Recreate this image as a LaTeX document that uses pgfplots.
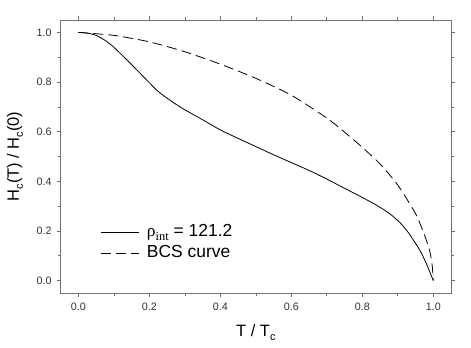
\documentclass[border=0pt]{standalone}
\usepackage{pgfplots}
\pgfplotsset{compat=1.18}
\usepackage{fontspec}
\setmainfont{Liberation Sans}
\newfontfamily\tnr{Liberation Serif}
\newcommand\sub[1]{\raisebox{-0.45ex}{\fontsize{11}{11}\selectfont #1}}
\newcommand\subL[1]{\raisebox{-0.45ex}{\fontsize{12.5}{12.5}\selectfont #1}}
\begin{document}
\begin{tikzpicture}
\path[use as bounding box] (-60.7bp,-55bp) rectangle (410.3bp,293bp);
\begin{axis}[
  scale only axis, width=390.3bp, height=273bp,
  xmin=-0.05, xmax=1.05, ymin=-0.05, ymax=1.05,
  xtick={0,0.2,...,1.0}, ytick={0,0.2,...,1.0},
  minor xtick={0.1,0.3,...,0.9}, minor ytick={0.1,0.3,...,0.9},
  /pgf/number format/fixed, /pgf/number format/fixed zerofill,
  /pgf/number format/precision=1,
  /pgf/number format/assume math mode=true,
  tick align=outside, tick pos=both,
  major tick length=4bp, minor tick length=3bp,
  axis line style={black!55, line width=0.8pt},
  every tick/.style={black!55, line width=0.7pt},
  tick label style={font=\fontsize{10.8}{12}\selectfont, text=black!80},
  xticklabel style={yshift=-2bp},
  yticklabel style={xshift=-1.5bp},
  xlabel={T / T\sub{c}},
  ylabel={H\sub{c}(T) / H\sub{c}(0)},
  every axis x label/.style={at={(axis description cs:0.5,-0.1465)}, anchor=center,
    font=\fontsize{16.5}{19}\selectfont},
  every axis y label/.style={at={(axis description cs:-0.1171,0.5)}, anchor=center,
    rotate=90, font=\fontsize{16.5}{19}\selectfont},
  legend style={draw=none, fill=none, at={(0.1007,0.185)}, anchor=west,
    font=\fontsize{17.5}{20}\selectfont, row sep=0pt, inner sep=0pt,
    nodes={text height=13bp, text depth=4bp},
    /tikz/every odd column/.append style={column sep=6bp}},
  legend cell align=left,
  legend image code/.code={\draw[#1] (0bp,0bp) -- (38bp,0bp);},
  every axis plot/.append style={line width=0.8pt, black},
]
\addplot[smooth, tension=0.4] coordinates {
(0,1) (0.025,0.997) (0.05,0.988) (0.075,0.968) (0.1,0.94) (0.15,0.87)
(0.2,0.797) (0.22,0.768) (0.24,0.745) (0.27,0.715) (0.3,0.688)
(0.35,0.648) (0.4,0.607) (0.45,0.573) (0.5,0.54) (0.55,0.507)
(0.596,0.478) (0.653,0.442) (0.7,0.409) (0.746,0.375) (0.8,0.335)
(0.841,0.303) (0.875,0.272) (0.906,0.234) (0.93,0.193) (0.944,0.163)
(0.96,0.128) (0.972,0.095) (0.986,0.05) (1.0,0)};
\addlegendentry{{\tnr ρ\subL{int}} = 121.2}
\addplot[smooth, tension=0.4, dash pattern=on 10bp off 5bp] coordinates {
(0,1) (0.1,0.988) (0.2,0.962) (0.3,0.922) (0.4,0.872) (0.5,0.815)
(0.6,0.747) (0.7,0.655) (0.75,0.598) (0.8,0.537) (0.85,0.47)
(0.9,0.385) (0.95,0.27) (0.975,0.185) (0.99,0.12) (0.997,0.06) (1.0,0)};
\addlegendentry{BCS curve}
\end{axis}
\end{tikzpicture}
\end{document}
